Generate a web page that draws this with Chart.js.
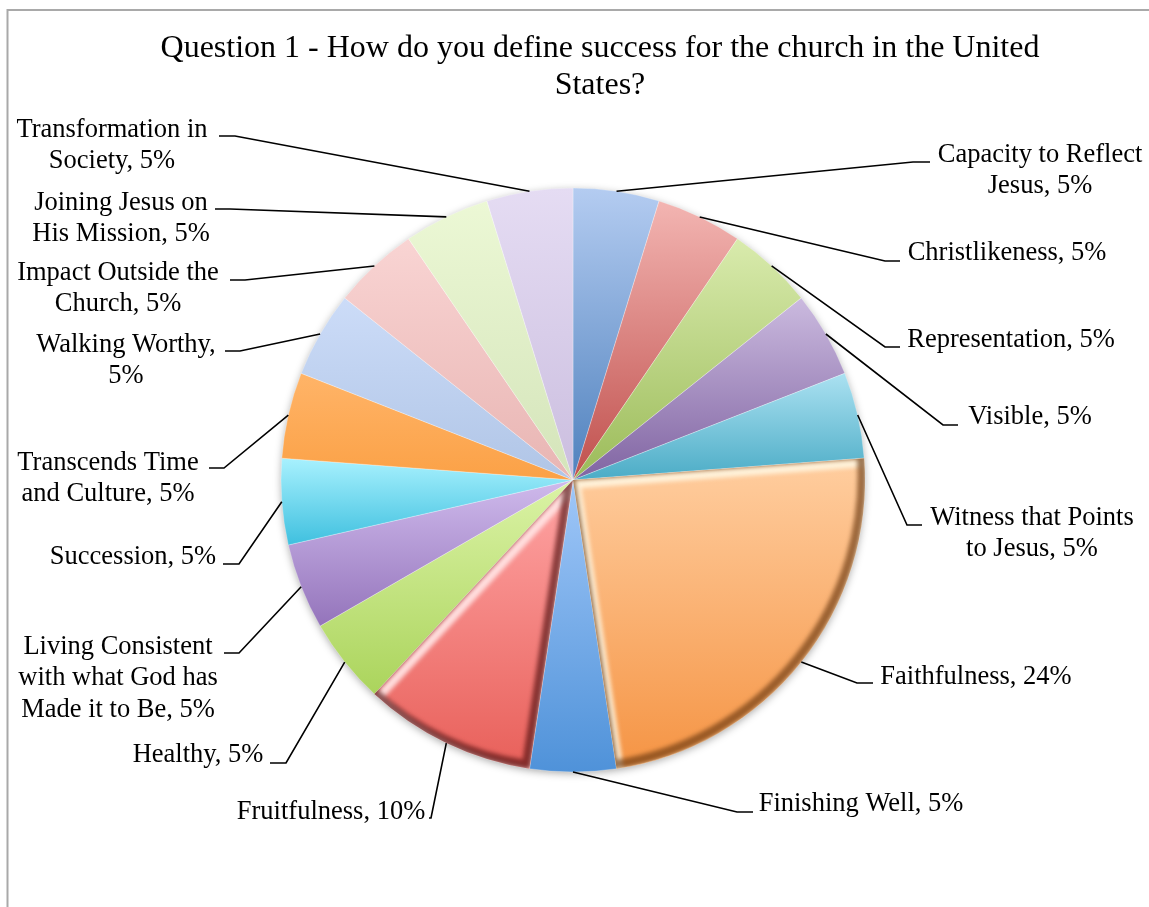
<!DOCTYPE html>
<html>
<head>
<meta charset="utf-8">
<script src="https://cdn.jsdelivr.net/npm/chart.js@4/dist/chart.umd.min.js"></script>
<style>
html,body{margin:0;padding:0;background:#fff;}
#wrap{width:1149px;height:907px;position:relative;}
</style>
</head>
<body>
<div id="wrap"><canvas id="c" width="1149" height="907"></canvas></div>
<script>
// ---------- data ----------
const titleLines = ['Question 1 - How do you define success for the church in the United', 'States?'];
const categories = [
  'Capacity to Reflect Jesus',
  'Christlikeness',
  'Representation',
  'Visible',
  'Witness that Points to Jesus',
  'Faithfulness',
  'Finishing Well',
  'Fruitfulness',
  'Healthy',
  'Living Consistent with what God has Made it to Be',
  'Succession',
  'Transcends Time and Culture',
  'Walking Worthy',
  'Impact Outside the Church',
  'Joining Jesus on His Mission',
  'Transformation in Society'
];
const responses = [1, 1, 1, 1, 1, 5, 1, 2, 1, 1, 1, 1, 1, 1, 1, 1];
const percentLabels = ['5%', '5%', '5%', '5%', '5%', '24%', '5%', '10%', '5%', '5%', '5%', '5%', '5%', '5%', '5%', '5%'];

// ---------- styles ----------
const lightColors = ['#b4ccf1','#f3b5b2','#d9ebad','#cbbadf','#abe1f1','#ffcea0','#a0c7f8','#ffa5a5','#dbf3a6','#cfbaec','#a8f1fe','#ffb468','#ccdcf8','#f9d4d3','#ecf8d5','#e5dcf3'];
const darkColors  = ['#4f81bd','#c0504d','#9bbb59','#8064a2','#4bacc6','#f59444','#4f92d9','#e8605a','#abd45c','#9474bb','#3fc0df','#fba146','#b0c5e6','#e8b5b3','#d4e4ba','#cbbedf'];
const bevelSlices = {5: {hi: 'rgba(255,243,220,0.95)', lo: 'rgba(105,55,15,0.65)'}, 7: {hi: 'rgba(255,225,225,0.95)', lo: 'rgba(80,15,15,0.65)'}};

// label layout: centre x, first line centre y, words per line, leader elbow and end
const labelLayout = [
  {cx: 1040, y: 155, words: [3],    elbow: [913, 162], end: [930, 162]},
  {cx: 1007, y: 253, words: [],     elbow: [885, 261], end: [900, 261]},
  {cx: 1011, y: 340, words: [],     elbow: [885, 347], end: [900, 347]},
  {cx: 1030, y: 417, words: [],     elbow: [943, 425], end: [958, 425]},
  {cx: 1032, y: 518, words: [3],    elbow: [907, 525], end: [922, 525]},
  {cx: 976,  y: 677, words: [],     elbow: [857, 683], end: [873, 683]},
  {cx: 861,  y: 804, words: [],     elbow: [737, 812], end: [753, 812]},
  {cx: 331,  y: 812, words: [],     elbow: [431, 818], end: [429, 818]},
  {cx: 198,  y: 755, words: [],     elbow: [286, 763], end: [270, 763]},
  {cx: 118,  y: 647, words: [2, 4], elbow: [239, 653], end: [224, 653]},
  {cx: 133,  y: 557, words: [],     elbow: [239, 564], end: [223, 564]},
  {cx: 108,  y: 463, words: [2],    elbow: [224, 468], end: [209, 468]},
  {cx: 126,  y: 345, words: [2],    elbow: [240, 351], end: [225, 351]},
  {cx: 118,  y: 273, words: [3],    elbow: [245, 280], end: [230, 280]},
  {cx: 121,  y: 203, words: [3],    elbow: [230, 209], end: [215, 209]},
  {cx: 112,  y: 130, words: [2],    elbow: [235, 136], end: [219, 136]}
];
const LABEL_FONT = '26.5px "Liberation Serif", "Times New Roman", serif';
const LINE_H = 31.5;

// ---------- helpers ----------
const total = responses.reduce((a, b) => a + b, 0);
function sliceAngles(i) {
  let before = 0;
  for (let k = 0; k < i; k++) before += responses[k];
  const a0 = -Math.PI / 2 + before / total * 2 * Math.PI;
  const a1 = a0 + responses[i] / total * 2 * Math.PI;
  return [a0, a1];
}
function inArc(a, a0, a1) {
  while (a < a0) a += 2 * Math.PI;
  return a <= a1;
}
function sliceGradient(context) {
  const i = context.dataIndex;
  const chart = context.chart;
  const area = chart.chartArea;
  if (!area || i === undefined) return darkColors[i] || '#ccc';
  const ctrl = chart.getDatasetMeta(0).controller;
  const r = ctrl.outerRadius || 292;
  const cy = (area.top + area.bottom) / 2;
  const [a0, a1] = sliceAngles(i);
  const ys = [cy, cy + r * Math.sin(a0), cy + r * Math.sin(a1)];
  if (inArc(Math.PI / 2, a0, a1)) ys.push(cy + r);
  if (inArc(-Math.PI / 2, a0, a1)) ys.push(cy - r);
  const minY = Math.min(...ys), maxY = Math.max(...ys);
  const g = chart.ctx.createLinearGradient(0, minY, 0, maxY + 0.01);
  g.addColorStop(0, lightColors[i]);
  g.addColorStop(1, darkColors[i]);
  return g;
}
function arcPath(ctx, el) {
  const p = el.getProps(['x', 'y', 'startAngle', 'endAngle', 'outerRadius'], true);
  ctx.beginPath();
  ctx.moveTo(p.x, p.y);
  ctx.arc(p.x, p.y, p.outerRadius, p.startAngle, p.endAngle);
  ctx.closePath();
}
function labelLines(i) {
  const words = (categories[i] + ', ' + percentLabels[i]).split(' ');
  const counts = labelLayout[i].words;
  const lines = [];
  let pos = 0;
  counts.forEach(n => { lines.push(words.slice(pos, pos + n).join(' ')); pos += n; });
  lines.push(words.slice(pos).join(' '));
  return lines;
}

// ---------- plugins ----------
const framePlugin = {
  id: 'frame',
  beforeDraw(chart) {
    const ctx = chart.ctx;
    ctx.save();
    ctx.strokeStyle = '#a9a9a9';
    ctx.lineWidth = 2;
    ctx.beginPath();
    ctx.moveTo(7.5, 907);
    ctx.lineTo(7.5, 10);
    ctx.lineTo(1149, 10);
    ctx.stroke();
    ctx.restore();
  }
};
const shadowPlugin = {
  id: 'pieShadow',
  beforeDatasetsDraw(chart) {
    const el = chart.getDatasetMeta(0).data[0];
    if (!el) return;
    const p = el.getProps(['x', 'y', 'outerRadius'], true);
    const ctx = chart.ctx;
    ctx.save();
    ctx.shadowColor = 'rgba(0,0,0,0.38)';
    ctx.shadowBlur = 9;
    ctx.shadowOffsetX = 0;
    ctx.shadowOffsetY = 2;
    ctx.fillStyle = '#ffffff';
    ctx.beginPath();
    ctx.arc(p.x, p.y, p.outerRadius - 1, 0, Math.PI * 2);
    ctx.fill();
    ctx.restore();
  }
};
const bevelPlugin = {
  id: 'bevel',
  afterDatasetsDraw(chart) {
    const ctx = chart.ctx;
    const data = chart.getDatasetMeta(0).data;
    Object.keys(bevelSlices).forEach(k => {
      const el = data[+k];
      if (!el) return;
      const st = bevelSlices[k];
      ctx.save();
      arcPath(ctx, el);
      ctx.clip();
      ctx.filter = 'blur(2px)';
      ctx.lineWidth = 9;
      ctx.lineJoin = 'round';
      ctx.save();
      ctx.translate(3, 4);
      arcPath(ctx, el);
      ctx.strokeStyle = st.hi;
      ctx.stroke();
      ctx.restore();
      ctx.save();
      ctx.translate(-3, -4);
      arcPath(ctx, el);
      ctx.strokeStyle = st.lo;
      ctx.stroke();
      ctx.restore();
      ctx.restore();
    });
  }
};
const labelPlugin = {
  id: 'leaderLabels',
  afterDatasetsDraw(chart) {
    const ctx = chart.ctx;
    const data = chart.getDatasetMeta(0).data;
    ctx.save();
    data.forEach((el, i) => {
      const p = el.getProps(['x', 'y', 'startAngle', 'endAngle', 'outerRadius'], true);
      const mid = (p.startAngle + p.endAngle) / 2;
      const sx = p.x + Math.cos(mid) * p.outerRadius;
      const sy = p.y + Math.sin(mid) * p.outerRadius;
      const L = labelLayout[i];
      ctx.strokeStyle = '#000';
      ctx.lineWidth = 1.6;
      ctx.lineJoin = 'miter';
      ctx.beginPath();
      ctx.moveTo(sx, sy);
      ctx.lineTo(L.elbow[0], L.elbow[1]);
      ctx.lineTo(L.end[0], L.end[1]);
      ctx.stroke();
      ctx.fillStyle = '#000';
      ctx.font = LABEL_FONT;
      ctx.textAlign = 'center';
      ctx.textBaseline = 'middle';
      labelLines(i).forEach((line, j) => ctx.fillText(line, L.cx, L.y + j * LINE_H));
    });
    ctx.restore();
  }
};
const titlePlugin = {
  id: 'chartTitle',
  afterDraw(chart) {
    const ctx = chart.ctx;
    ctx.save();
    ctx.fillStyle = '#000';
    ctx.font = '32px "Liberation Serif", "Times New Roman", serif';
    ctx.textAlign = 'center';
    ctx.textBaseline = 'alphabetic';
    const baselines = [57, 94];
    titleLines.forEach((t, j) => ctx.fillText(t, 600, baselines[j]));
    ctx.restore();
  }
};

// ---------- chart ----------
new Chart(document.getElementById('c'), {
  type: 'pie',
  data: {
    labels: categories,
    datasets: [{
      data: responses,
      backgroundColor: sliceGradient,
      borderColor: 'rgba(255,255,255,0.35)',
      borderWidth: 0.8
    }]
  },
  options: {
    responsive: false,
    devicePixelRatio: 1,
    animation: false,
    events: [],
    radius: 292,
    layout: {padding: {left: 0, right: 3, top: 53, bottom: 0}},
    plugins: {
      legend: {display: false},
      tooltip: {enabled: false},
      title: {display: false}
    }
  },
  plugins: [framePlugin, shadowPlugin, bevelPlugin, labelPlugin, titlePlugin]
});
</script>
</body>
</html>
